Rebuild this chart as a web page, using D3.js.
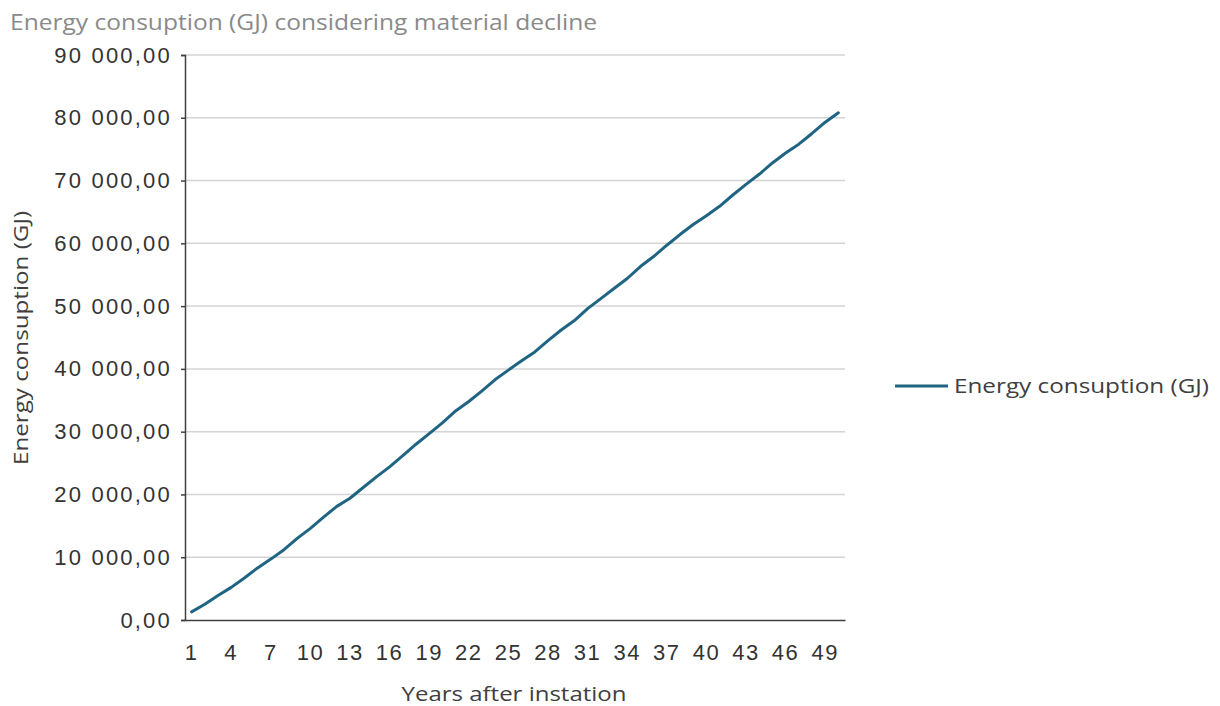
<!DOCTYPE html>
<html>
<head>
<meta charset="utf-8">
<script src="https://cdn.jsdelivr.net/npm/d3@7"></script>
<style>
  html, body { margin: 0; padding: 0; background: #ffffff; }
  svg { display: block; font-family: "Open Sans", "Noto Sans", sans-serif; }
</style>
</head>
<body>
<svg id="chart" width="1220" height="706"></svg>
<script>
// Years after installation (category axis)
const years = d3.range(1, 51);

// Cumulative energy consumption per year (GJ)
const energy = [
  1300, 2500, 3900, 5200, 6700, 8300, 9700, 11200, 13000, 14600,
  16400, 18100, 19400, 21100, 22800, 24400, 26200, 28000, 29700, 31400,
  33300, 34800, 36500, 38300, 39800, 41300, 42700, 44500, 46200, 47700,
  49600, 51200, 52800, 54400, 56300, 57900, 59700, 61400, 63000, 64400,
  65900, 67700, 69400, 71000, 72800, 74400, 75800, 77500, 79300, 80800
];

const yTicks = [0, 10000, 20000, 30000, 40000, 50000, 60000, 70000, 80000, 90000];
const xTickLabels = years.filter((y, i) => i % 3 === 0);

const titleText = "Energy consuption (GJ) considering material decline";
const yTitle = "Energy consuption (GJ)";
const xTitle = "Years after instation";
const seriesName = "Energy consuption (GJ)";

const svg = d3.select("#chart");
const plot = { left: 185, right: 845, top: 55, bottom: 620 };

const x = d3.scaleBand()
  .domain(years)
  .range([plot.left, plot.right]);

const y = d3.scaleLinear()
  .domain([0, 90000])
  .range([plot.bottom, plot.top]);

// number format: "90 000,00"
const fmt = v => {
  const s = d3.format(",.2f")(v);
  return s.replace(/,/g, " ").replace(".", ",");
};

// Horizontal gridlines
svg.append("g")
  .selectAll("line")
  .data(yTicks.filter(t => t > 0))
  .join("line")
  .attr("x1", plot.left)
  .attr("x2", plot.right)
  .attr("y1", d => y(d))
  .attr("y2", d => y(d))
  .attr("stroke", "#d4d4d4")
  .attr("stroke-width", 1.5);

const tickFont = "'Liberation Sans', Arial, sans-serif";

// Y axis
const yAxis = svg.append("g")
  .attr("transform", `translate(${plot.left},0)`)
  .call(d3.axisLeft(y).tickValues(yTicks).tickFormat(fmt).tickSize(4).tickPadding(9));
yAxis.select(".domain").attr("stroke", "#404040").attr("stroke-width", 1.5);
yAxis.selectAll(".tick line").attr("stroke", "#404040").attr("stroke-width", 1.5);
yAxis.selectAll(".tick text")
  .attr("fill", "#333333")
  .style("font-size", "22px")
  .style("letter-spacing", "2.2px")
  .style("font-family", tickFont);

// X axis
const xAxis = svg.append("g")
  .attr("transform", `translate(0,${plot.bottom})`)
  .call(d3.axisBottom(x).tickValues(xTickLabels).tickSize(0).tickPadding(24));
xAxis.select(".domain").attr("stroke", "#404040").attr("stroke-width", 1.5);
xAxis.selectAll(".tick text")
  .attr("fill", "#333333")
  .style("font-size", "22px")
  .style("letter-spacing", "1.5px")
  .style("font-family", tickFont);

// Series line
const line = d3.line()
  .x((d, i) => x(years[i]) + x.bandwidth() / 2)
  .y(d => y(d));

svg.append("path")
  .datum(energy)
  .attr("d", line)
  .attr("fill", "none")
  .attr("stroke", "#1f6482")
  .attr("stroke-width", 3)
  .attr("stroke-linejoin", "round")
  .attr("stroke-linecap", "round");

// Chart title
svg.append("text")
  .attr("x", 10)
  .attr("y", 30)
  .attr("fill", "#8a8a8a")
  .style("font-size", "21px")
  .attr("textLength", 587)
  .attr("lengthAdjust", "spacingAndGlyphs")
  .text(titleText);

// Y axis title
svg.append("text")
  .attr("transform", `translate(28,${338}) rotate(-90)`)
  .attr("text-anchor", "middle")
  .attr("fill", "#404040")
  .style("font-size", "20px")
  .attr("textLength", 254)
  .attr("lengthAdjust", "spacingAndGlyphs")
  .text(yTitle);

// X axis title
svg.append("text")
  .attr("x", 514)
  .attr("y", 701)
  .attr("text-anchor", "middle")
  .attr("fill", "#404040")
  .style("font-size", "20px")
  .attr("textLength", 225)
  .attr("lengthAdjust", "spacingAndGlyphs")
  .text(xTitle);

// Legend
const legend = svg.append("g").attr("transform", "translate(895,386)");
legend.append("line")
  .attr("x1", 0).attr("x2", 53)
  .attr("y1", 0).attr("y2", 0)
  .attr("stroke", "#1f6482")
  .attr("stroke-width", 3);
legend.append("text")
  .attr("x", 59)
  .attr("y", 7)
  .attr("fill", "#404040")
  .style("font-size", "20px")
  .attr("textLength", 255)
  .attr("lengthAdjust", "spacingAndGlyphs")
  .text(seriesName);
</script>
</body>
</html>
